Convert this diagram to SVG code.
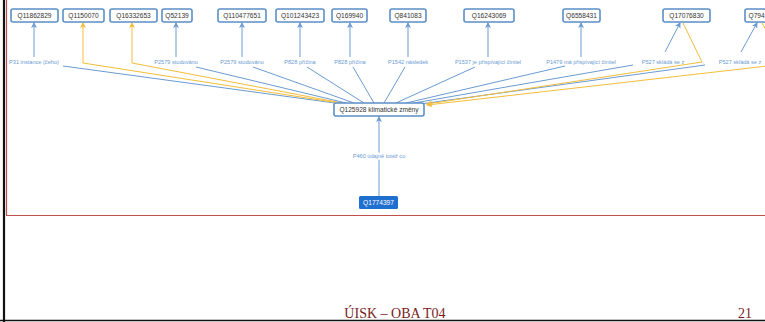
<svg xmlns="http://www.w3.org/2000/svg" width="765" height="322" viewBox="0 0 765 322">
<defs>
<style>
.n rect{fill:#fff;stroke:#5b8fc8;stroke-width:1.6}
.n text{font-family:"Liberation Sans",Arial,sans-serif;font-size:6.6px;fill:#333;text-anchor:middle}
.b{fill:none;stroke:#6c9bd2;stroke-width:1}
.y{fill:none;stroke:#f2bd3a;stroke-width:1}
.l{font-family:"Liberation Sans",Arial,sans-serif;font-size:5.6px;fill:#6c9bd2;text-anchor:middle}
.f{font-family:"Liberation Serif","Times New Roman",serif;font-size:14px;fill:#7a1c1c}
</style>
<marker id="ab" markerWidth="6" markerHeight="6" refX="5" refY="3" orient="auto" markerUnits="userSpaceOnUse"><path d="M0,0 L6,3 L0,6 L1.5,3 Z" fill="#6c9bd2"/></marker>
<marker id="ay" markerWidth="6" markerHeight="6" refX="5" refY="3" orient="auto" markerUnits="userSpaceOnUse"><path d="M0,0 L6,3 L0,6 L1.5,3 Z" fill="#f2bd3a"/></marker>
</defs>
<rect width="765" height="322" fill="#fff"/>
<g id="frame">
<line x1="4" y1="0" x2="4" y2="322" stroke="#111" stroke-width="2.2"/>
<line x1="0" y1="320.5" x2="765" y2="320.5" stroke="#111" stroke-width="1.6"/>
<line x1="6.5" y1="0" x2="6.5" y2="215.5" stroke="#c0504d" stroke-width="1.2"/>
<line x1="6" y1="215.5" x2="765" y2="215.5" stroke="#c0504d" stroke-width="1.2"/>
</g>
<g id="connectors">
<path class="b" d="M335,103 L63,66"/><path class="b" d="M34,57 L34,23" marker-end="url(#ab)"/>
<path class="y" d="M339,103 L83,63 L83,23" marker-end="url(#ay)"/>
<path class="y" d="M342,103 L132,63 L132,23" marker-end="url(#ay)"/>
<path class="b" d="M346,103 L196,67"/><path class="b" d="M176,57 L176,23" marker-end="url(#ab)"/>
<path class="b" d="M354,103 L253,67"/><path class="b" d="M242,57 L242,23" marker-end="url(#ab)"/>
<path class="b" d="M364,103 L307,67"/><path class="b" d="M300,57 L300,23" marker-end="url(#ab)"/>
<path class="b" d="M374,103 L353,67"/><path class="b" d="M350,57 L350,23" marker-end="url(#ab)"/>
<path class="b" d="M384,103 L405,67"/><path class="b" d="M408,57 L408,23" marker-end="url(#ab)"/>
<path class="b" d="M396,103 L475,67"/><path class="b" d="M488,57 L488,23" marker-end="url(#ab)"/>
<path class="b" d="M406,103 L565,66"/><path class="b" d="M581,57 L581,23" marker-end="url(#ab)"/>
<path class="b" d="M414,103 L633,65"/><path class="b" d="M665,52 L680,23" marker-end="url(#ab)"/>
<path class="b" d="M420,104 L705,65"/><path class="b" d="M741,52 L757,23" marker-end="url(#ab)"/>
<path class="y" d="M683,23 L702,62 L427,104" marker-end="url(#ay)"/>
<path class="y" d="M762,23 L785,64 L427,105" marker-end="url(#ay)"/>
<path class="b" d="M379,196 L379,117" marker-end="url(#ab)"/>
</g>
<g id="labels">
<text class="l" x="34" y="64">P31 instance (čeho)</text>
<text class="l" x="176" y="64">P2579 studováno</text>
<text class="l" x="242" y="64">P2579 studováno</text>
<text class="l" x="300" y="64">P828 příčina</text>
<text class="l" x="350" y="64">P828 příčina</text>
<text class="l" x="408" y="64">P1542 následek</text>
<text class="l" x="488" y="64">P1537 je přispívající činitel</text>
<text class="l" x="581" y="64">P1479 má přispívající činitel</text>
<text class="l" x="663" y="64">P527 skládá se z</text>
<text class="l" x="740" y="64">P527 skládá se z</text>
<text class="l" x="379" y="158" style="fill:#fff" stroke="#fff" stroke-width="3">P460 údajně totéž co</text>
<text class="l" x="379" y="158">P460 údajně totéž co</text>
</g>
<g id="n1" class="n"><rect x="11" y="9" width="47" height="13" rx="2"/><text x="34.5" y="18">Q11862829</text></g>
<g id="n2" class="n"><rect x="63" y="9" width="41" height="13" rx="2"/><text x="83.5" y="18">Q1150070</text></g>
<g id="n3" class="n"><rect x="110" y="9" width="47" height="13" rx="2"/><text x="133.5" y="18">Q16332653</text></g>
<g id="n4" class="n"><rect x="162" y="9" width="30" height="13" rx="2"/><text x="177" y="18">Q52139</text></g>
<g id="n5" class="n"><rect x="218" y="9" width="48" height="13" rx="2"/><text x="242" y="18">Q110477651</text></g>
<g id="n6" class="n"><rect x="276" y="9" width="48" height="13" rx="2"/><text x="300" y="18">Q101243423</text></g>
<g id="n7" class="n"><rect x="332" y="9" width="35" height="13" rx="2"/><text x="349.5" y="18">Q169940</text></g>
<g id="n8" class="n"><rect x="390" y="9" width="36" height="13" rx="2"/><text x="408" y="18">Q841083</text></g>
<g id="n9" class="n"><rect x="464" y="9" width="50" height="13" rx="2"/><text x="489" y="18">Q16243069</text></g>
<g id="n10" class="n"><rect x="563" y="9" width="37" height="13" rx="2"/><text x="581.5" y="18">Q6558431</text></g>
<g id="n11" class="n"><rect x="663" y="9" width="47" height="13" rx="2"/><text x="686.5" y="18">Q17076830</text></g>
<g id="n12" class="n"><rect x="745" y="9" width="48" height="13" rx="2"/><text x="748.5" y="18" style="text-anchor:start">Q794</text></g>
<g id="center" class="n"><rect x="334" y="103" width="90" height="13" rx="2"/><text x="379" y="112">Q125928 klimatické změny</text></g>
<g id="src"><rect x="359" y="196" width="39" height="13" rx="1.5" fill="#1f6fd0"/><text x="378.5" y="205" font-family="Liberation Sans,Arial,sans-serif" font-size="6.6px" fill="#fff" text-anchor="middle">Q1774397</text></g>
<g id="footer">
<text class="f" x="395" y="318" text-anchor="middle">ÚISK – OBA T04</text>
<text class="f" x="745" y="318" text-anchor="middle">21</text>
</g>
</svg>
